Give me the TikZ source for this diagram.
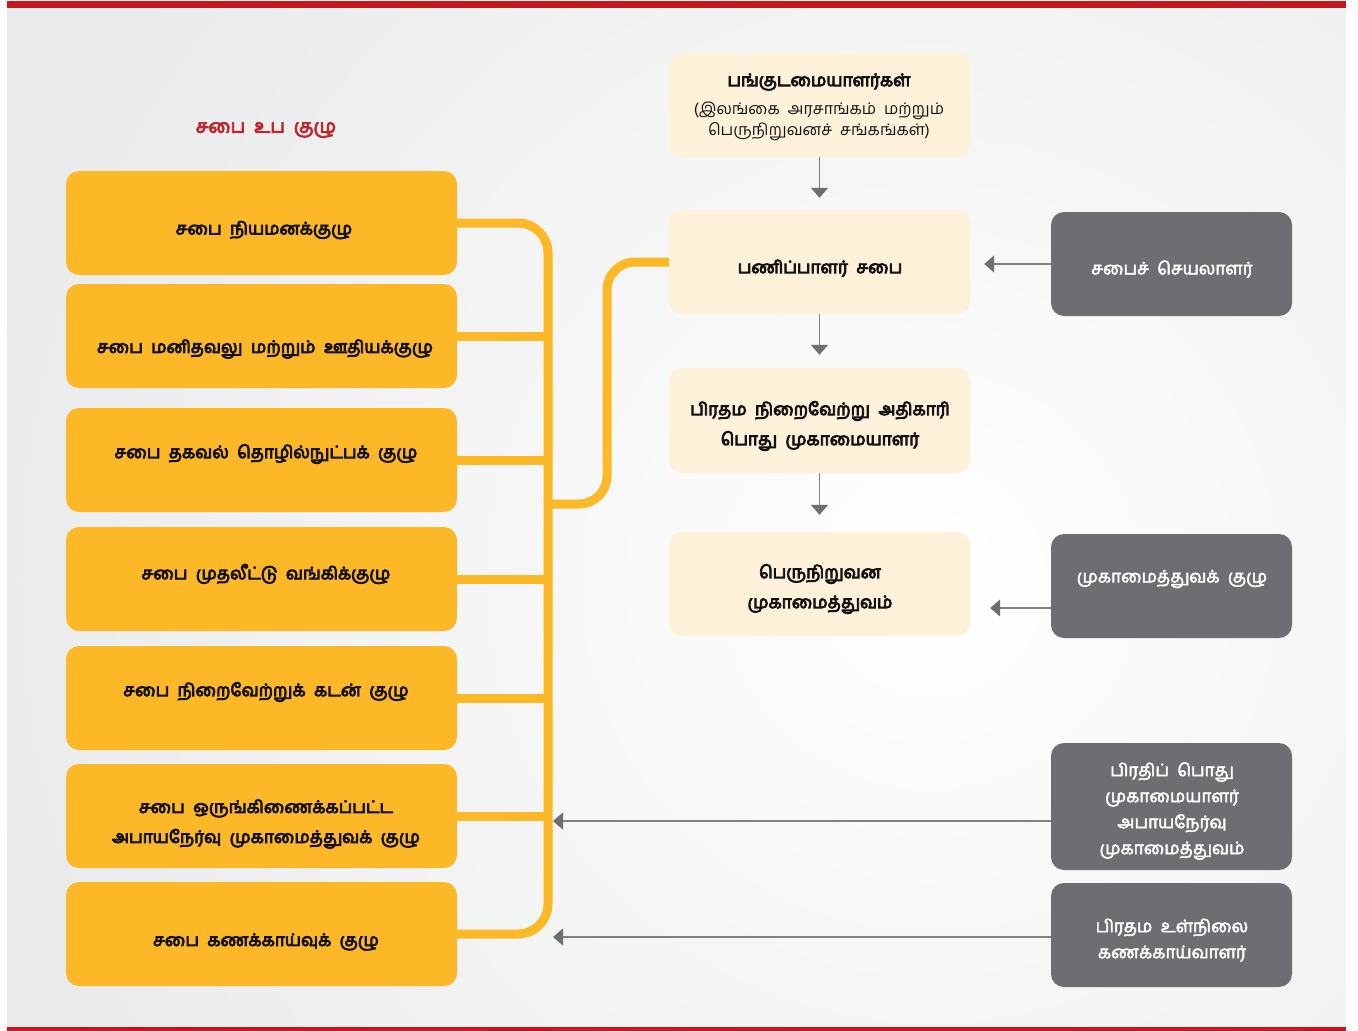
\documentclass[tikz,border=0pt]{standalone}
\usepackage{fontspec}
\usetikzlibrary{arrows.meta}
\newfontfamily\tam[Script=Tamil,WordSpace=2]{Hind Madurai}
\newfontfamily\tamb[Script=Tamil,WordSpace=2,FakeBold=5]{Hind Madurai}
\newfontfamily\tamm[Script=Tamil,WordSpace=2,FakeBold=2.8]{Hind Madurai}
\definecolor{orangebox}{RGB}{253,184,39}
\definecolor{creambox}{RGB}{254,241,217}
\definecolor{graybox}{RGB}{109,110,113}
\definecolor{linegray}{RGB}{128,129,132}
\definecolor{barred}{RGB}{200,22,29}
\definecolor{titlered}{RGB}{193,39,45}
\definecolor{bgedge}{RGB}{233,234,235}
\definecolor{textblack}{RGB}{20,18,19}
\begin{document}
\begin{tikzpicture}[x=1pt,y=-1pt,
  obox/.style={fill=orangebox, rounded corners=13pt, minimum width=391pt, minimum height=104pt, inner sep=0pt},
  cbox/.style={fill=creambox, rounded corners=13pt, minimum width=301pt, minimum height=104pt, inner sep=0pt},
  gbox/.style={fill=graybox, rounded corners=13pt, minimum width=241pt, minimum height=104pt, inner sep=0pt},
  otext/.style={font=\tamb\fontsize{17.2}{30}\selectfont, text=textblack, align=center, inner sep=0pt},
  ctext/.style={font=\tamb\fontsize{17.2}{30}\selectfont, text=textblack, align=center, inner sep=0pt},
  csmall/.style={font=\tam\fontsize{16}{21}\selectfont, text=textblack, align=center, inner sep=0pt},
  gtext/.style={font=\tamm\fontsize{17.2}{26}\selectfont, text=white, align=center, inner sep=0pt},
  oline/.style={draw=orangebox, line width=9pt},
  garrow/.style={draw=linegray, line width=1.4pt, -{Triangle[length=10pt,width=17pt,color=graybox]}}
]
\useasboundingbox (0,0) rectangle (1358,1031);
% background
\begin{scope}
  \clip (7,8) rectangle (1346,1027);
  \fill[bgedge] (7,8) rectangle (1346,1027);
  \shade[inner color=white, outer color=bgedge] (930,580) circle (980);
\end{scope}
\fill[barred] (7,1) rectangle (1346,8);
\fill[barred] (7,1027) rectangle (1346,1031);

% title
\node[font=\tamb\fontsize{18.5}{20}\selectfont, text=titlered, inner sep=0pt] (title) at (266,130) {சபை உப குழு};

% orange boxes
\node[obox] (b1) at (261.5,223) {};
\node[obox] (b2) at (261.5,336) {};
\node[obox] (b3) at (261.5,460) {};
\node[obox] (b4) at (261.5,579) {};
\node[obox] (b5) at (261.5,698) {};
\node[obox] (b6) at (261.5,816) {};
\node[obox] (b7) at (261.5,934) {};
\node[otext] (t1) at (264,230) {சபை நியமனக்குழு};
\node[otext] (t2) at (265,349) {சபை மனிதவலு மற்றும் ஊதியக்குழு};
\node[otext] (t3) at (266,454) {சபை தகவல் தொழில்நுட்பக் குழு};
\node[otext] (t4) at (266,574) {சபை முதலீட்டு வங்கிக்குழு};
\node[otext] (t5) at (266,692) {சபை நிறைவேற்றுக் கடன் குழு};
\node[otext] (t6) at (266,824) {சபை ஒருங்கிணைக்கப்பட்ட\\அபாயநேர்வு முகாமைத்துவக் குழு};
\node[otext] (t7) at (266,942) {சபை கணக்காய்வுக் குழு};

% cream boxes
\node[cbox] (A) at (819.5,105) {};
\node[cbox] (B) at (819.5,262) {};
\node[cbox, minimum height=105pt] (C) at (819.5,420.5) {};
\node[cbox] (D) at (819.5,584) {};
\node[ctext] (tA1) at (819,82) {பங்குடமையாளர்கள்};
\node[csmall] (tA2) at (819,121) {(இலங்கை அரசாங்கம் மற்றும்\\பெருநிறுவனச் சங்கங்கள்)};
\node[ctext] (tB) at (820,268) {பணிப்பாளர் சபை};
\node[ctext] (tC) at (820,426) {பிரதம நிறைவேற்று அதிகாரி\\பொது முகாமையாளர்};
\node[ctext] (tD) at (820,589) {பெருநிறுவன\\முகாமைத்துவம்};

% gray boxes
\node[gbox] (G1) at (1171.5,264) {};
\node[gbox] (G2) at (1171.5,586) {};
\node[gbox, minimum height=127pt] (G3) at (1171.5,806.5) {};
\node[gbox] (G4) at (1171.5,935) {};
\node[gtext] (tG1) at (1172,269) {சபைச் செயலாளர்};
\node[gtext] (tG2) at (1172,579) {முகாமைத்துவக் குழு};
\node[gtext] (tG3) at (1172,811) {பிரதிப் பொது\\முகாமையாளர்\\அபாயநேர்வு\\முகாமைத்துவம்};
\node[gtext] (tG4) at (1172,940) {பிரதம உள்நிலை\\கணக்காய்வாளர்};

% orange bracket
\coordinate (sp) at (548,0);
\coordinate (jn) at (548,504);
\coordinate (kx) at (607,0);
\draw[oline, rounded corners=30pt] (b1.east) -- (b1.east -| sp) -- (b7.east -| sp) -- (b7.east);
\foreach \i in {2,...,6} {\draw[oline] (b\i.east) -- (b\i.east -| sp);}
\draw[oline, rounded corners=28pt] (jn) -- (jn -| kx) -- (kx |- B.west) -- (B.west);

% gray arrows
\draw[garrow] (A.south) -- ([yshift=12pt]B.north);
\draw[garrow] (B.south) -- ([yshift=13pt]C.north);
\draw[garrow] (C.south) -- ([yshift=17pt]D.north);
\coordinate (bt) at ([xshift=14pt]B.east);
\coordinate (g1o) at (G1.west);
\draw[garrow] (g1o) -- (g1o -| bt);
\coordinate (dt) at ([xshift=20pt]D.east);
\coordinate (g2o) at ([yshift=-22pt]G2.west);
\draw[garrow] (g2o) -- (g2o -| dt);
\coordinate (st) at ([xshift=5pt]sp);
\coordinate (g3o) at ([yshift=-14.5pt]G3.west);
\draw[garrow] (g3o) -- (g3o -| st);
\coordinate (g4o) at ([yshift=-2pt]G4.west);
\draw[garrow] (g4o) -- (g4o -| st);
\end{tikzpicture}
\end{document}
